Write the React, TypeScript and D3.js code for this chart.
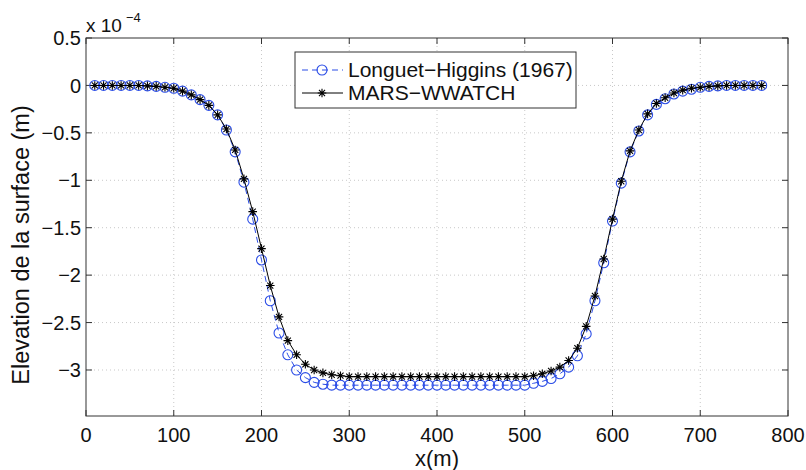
import React from "react";
import * as d3 from "d3";

const xValues = [
  10, 20, 30, 40, 50, 60, 70, 80, 90, 100, 110, 120, 130, 140, 150, 160, 170, 180, 190, 200,
  210, 220, 230, 240, 250, 260, 270, 280, 290, 300, 310, 320, 330, 340, 350, 360, 370, 380, 390, 400,
  410, 420, 430, 440, 450, 460, 470, 480, 490, 500, 510, 520, 530, 540, 550, 560, 570, 580, 590, 600,
  610, 620, 630, 640, 650, 660, 670, 680, 690, 700, 710, 720, 730, 740, 750, 760, 770,
];

// Longuet-Higgins (1967), units of 1e-4 m
const lhValues = [
  0, 0, 0, 0, 0, 0, -0.005, -0.01, -0.02, -0.03, -0.06, -0.1, -0.15, -0.21, -0.31, -0.47, -0.7, -1.02, -1.41, -1.84,
  -2.27, -2.61, -2.84, -3.0, -3.08, -3.13, -3.15, -3.16, -3.16, -3.16, -3.16, -3.16, -3.16, -3.16, -3.16, -3.16, -3.16, -3.16, -3.16, -3.16,
  -3.16, -3.16, -3.16, -3.16, -3.16, -3.16, -3.16, -3.16, -3.16, -3.16, -3.14, -3.12, -3.09, -3.04, -2.97, -2.85, -2.62, -2.27, -1.87, -1.43,
  -1.03, -0.7, -0.48, -0.31, -0.2, -0.14, -0.09, -0.06, -0.04, -0.02, -0.01, -0.005, 0, 0, 0, 0, 0,
];

// MARS-WWATCH, units of 1e-4 m
const marsValues = [
  0, 0, 0, 0, 0, 0, -0.005, -0.01, -0.02, -0.03, -0.06, -0.1, -0.15, -0.21, -0.31, -0.46, -0.68, -0.985, -1.33, -1.72,
  -2.11, -2.44, -2.69, -2.84, -2.94, -3.0, -3.03, -3.05, -3.06, -3.07, -3.07, -3.07, -3.07, -3.07, -3.07, -3.07, -3.07, -3.07, -3.07, -3.07,
  -3.07, -3.07, -3.07, -3.07, -3.07, -3.07, -3.07, -3.07, -3.07, -3.07, -3.06, -3.04, -3.01, -2.97, -2.9, -2.77, -2.54, -2.22, -1.83, -1.41,
  -1.01, -0.69, -0.47, -0.3, -0.19, -0.13, -0.08, -0.05, -0.03, -0.02, -0.01, -0.005, 0, 0, 0, 0, 0,
];

const xTicks = [0, 100, 200, 300, 400, 500, 600, 700, 800];
const yTicks = [0.5, 0, -0.5, -1, -1.5, -2, -2.5, -3];
const seriesNames = ["Longuet\u2212Higgins (1967)", "MARS\u2212WWATCH"];

const W = 806;
const H = 470;
const FONT = "'Liberation Sans', Arial, Helvetica, sans-serif";
const BLUE = "#2a4ce6";

function fmt(v: number) {
  const s = String(v);
  return s.replace("-", "\u2212");
}

function starPath(cx: number, cy: number, r: number) {
  const d = r * 0.7071;
  return `M${cx - r},${cy}L${cx + r},${cy}M${cx},${cy - r}L${cx},${cy + r}M${cx - d},${cy - d}L${cx + d},${cy + d}M${cx - d},${cy + d}L${cx + d},${cy - d}`;
}

export default function App() {
  const left = 86, right = 788, top = 38, bottom = 416;
  const x = d3.scaleLinear().domain([0, 800]).range([left, right]);
  const y = d3.scaleLinear().domain([-3.485, 0.5]).range([bottom, top]);

  const lhData = xValues.map((v, i) => [v, lhValues[i]] as [number, number]);
  const marsData = xValues.map((v, i) => [v, marsValues[i]] as [number, number]);
  const line = d3.line<[number, number]>().x((d) => x(d[0])).y((d) => y(d[1]));

  const tickLen = 6;
  const legX = 295, legY = 52, legW = 281, legH = 56;
  const row1 = 70, row2 = 93;

  return (
    <svg
      width={W}
      height={H}
      style={{ position: "absolute", left: 0, top: 0, background: "#fff" }}
      fontFamily={FONT}
    >
      <rect x={0} y={0} width={W} height={H} fill="#fff" />
      {/* grid */}
      {xTicks.slice(1, -1).map((t) => (
        <line key={"gx" + t} x1={x(t)} x2={x(t)} y1={top} y2={bottom} stroke="#c8c8c8" strokeWidth={1} strokeDasharray="1,3" />
      ))}
      {yTicks.slice(1).map((t) => (
        <line key={"gy" + t} x1={left} x2={right} y1={y(t)} y2={y(t)} stroke="#c8c8c8" strokeWidth={1} strokeDasharray="1,3" />
      ))}
      {/* ticks */}
      {xTicks.map((t) => (
        <g key={"tx" + t}>
          <line x1={x(t)} x2={x(t)} y1={bottom} y2={bottom - tickLen} stroke="#333" />
          <line x1={x(t)} x2={x(t)} y1={top} y2={top + tickLen} stroke="#333" />
          <text x={x(t)} y={442} fontSize={20} textAnchor="middle" fill="#111">
            {fmt(t)}
          </text>
        </g>
      ))}
      {yTicks.map((t) => (
        <g key={"ty" + t}>
          <line x1={left} x2={left + tickLen} y1={y(t)} y2={y(t)} stroke="#333" />
          <line x1={right} x2={right - tickLen} y1={y(t)} y2={y(t)} stroke="#333" />
          <text x={81} y={y(t)} dy="0.36em" fontSize={20} textAnchor="end" fill="#111">
            {fmt(t)}
          </text>
        </g>
      ))}
      {/* series */}
      <path d={line(lhData) || ""} fill="none" stroke={BLUE} strokeWidth={1} strokeDasharray="6,4" />
      {lhData.map((d, i) => (
        <circle key={"c" + i} cx={x(d[0])} cy={y(d[1])} r={5} fill="none" stroke={BLUE} strokeWidth={1.1} />
      ))}
      <path d={line(marsData) || ""} fill="none" stroke="#000" strokeWidth={1} />
      {marsData.map((d, i) => (
        <path key={"s" + i} d={starPath(x(d[0]), y(d[1]), 4.3)} stroke="#000" strokeWidth={1.1} fill="none" />
      ))}
      {/* frame */}
      <rect x={left} y={top} width={right - left} height={bottom - top} fill="none" stroke="#333" strokeWidth={1} />
      {/* exponent */}
      <text x={86} y={32} fontSize={19} fill="#111">x 10</text>
      <text x={126} y={22} fontSize={13} fill="#111">{"\u22124"}</text>
      {/* labels */}
      <text x={437} y={466} fontSize={22} textAnchor="middle" fill="#111">x(m)</text>
      <text
        transform={`translate(29,${(top + bottom) / 2 + 18}) rotate(-90)`}
        fontSize={23.5}
        textAnchor="middle"
        fill="#111"
      >
        Elevation de la surface (m)
      </text>
      {/* legend */}
      <rect x={legX} y={legY} width={legW} height={legH} fill="#fff" stroke="#333" strokeWidth={1} />
      <line x1={302} x2={343} y1={row1} y2={row1} stroke={BLUE} strokeWidth={1} strokeDasharray="6,4" />
      <circle cx={322} cy={row1} r={5} fill="none" stroke={BLUE} strokeWidth={1.1} />
      <text x={348} y={row1 + 7} fontSize={21} fill="#111">{seriesNames[0]}</text>
      <line x1={302} x2={343} y1={row2} y2={row2} stroke="#000" strokeWidth={1} />
      <path d={starPath(322, row2, 4.3)} stroke="#000" strokeWidth={1.1} fill="none" />
      <text x={348} y={row2 + 7} fontSize={21} fill="#111">{seriesNames[1]}</text>
    </svg>
  );
}
